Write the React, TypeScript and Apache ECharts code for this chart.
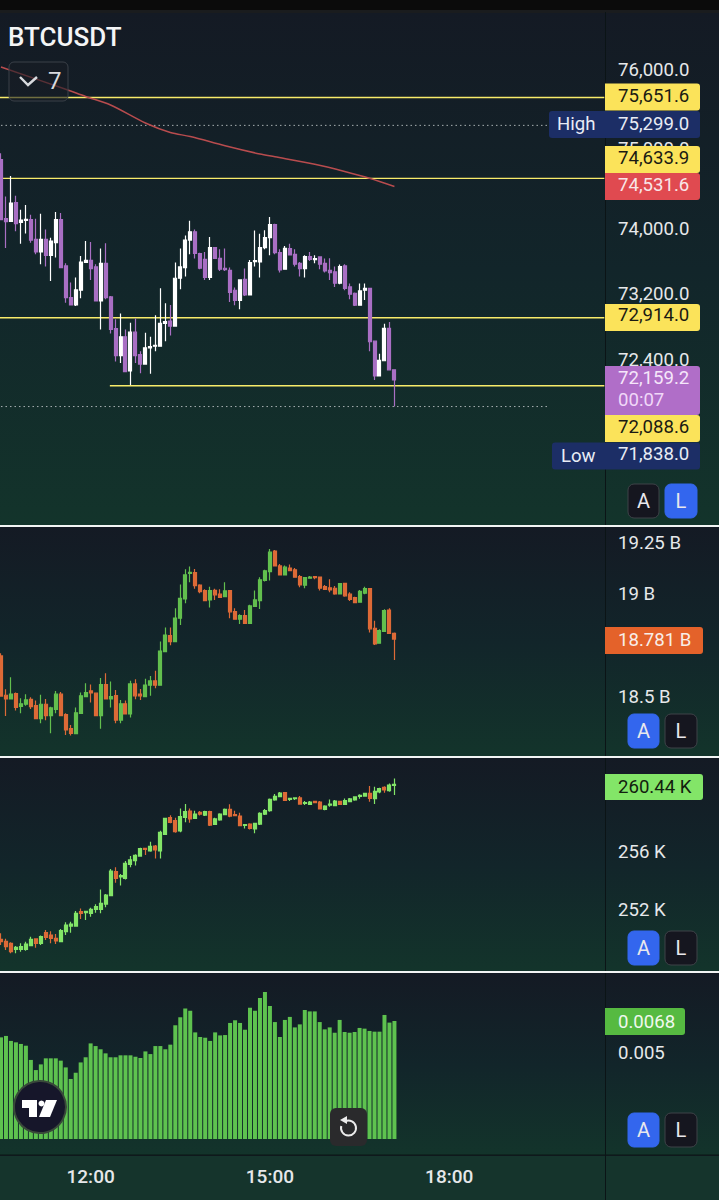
import React, { useEffect, useRef } from "react";
import * as echarts from "echarts";

const priceCandles: number[][] = [
[74870,74121,74121,74947],[74133,74097,73769,74407],[74100,74326,74100,74665],[74333,74072,73977,74416],[74087,74115,73823,74244],
[74112,74125,73949,74301],[74121,73867,73835,74182],[73876,73720,73692,74130],[73720,73876,73569,74195],[73876,73679,73541,73998],
[73679,73855,73364,73897],[73835,74121,73651,74216],[74121,73528,73528,74204],[73548,73160,73098,73581],[73160,73070,73070,73344],
[73070,73254,73057,73406],[73250,73597,73152,73671],[73593,73618,73590,73855],[73618,73516,73376,73843],[73536,73119,73119,73569],
[73119,73581,72771,73762],[73581,73160,73140,73827],[73168,72771,72722,73180],[72780,72452,72382,72894],[72452,72682,72363,72964],
[72682,72260,72260,72771],[72268,72738,72097,72853],[72738,72452,72363,72903],[72465,72351,72240,72505],[72351,72547,72342,72731],
[72547,72563,72232,72682],[72567,72579,72505,72943],[72567,72845,72567,73274],[72845,72866,72628,73090],[72874,72812,72698,73070],
[72812,73397,72812,73590],[73397,73536,73262,73762],[73528,73867,73418,73925],[73867,73970,73692,74108],[73970,73704,73639,73998],
[73700,73520,73508,73712],[73630,73406,73376,73720],[73406,73774,73376,73904],[73774,73642,73642,73774],[73642,73508,73487,73753],
[73520,73504,73487,73762],[73495,73222,73106,73528],[73250,73127,73066,73283],[73127,73376,73017,73385],[73385,73192,73180,73516],
[73192,73590,73192,73622],[73602,73614,73541,73986],[73597,73774,73406,73946],[73774,73897,73753,73990],[73897,74060,73679,74154],
[74060,73712,73692,74068],[73712,73499,73467,73753],[73508,73765,73508,73793],[73762,73683,73679,73823],[73692,73569,73541,73753],
[73581,73516,73418,73597],[73516,73663,73406,73679],[73663,73630,73609,73720],[73626,73639,73581,73679],[73659,73569,73508,73659],
[73581,73487,73467,73639],[73495,73467,73376,73642],[73475,73336,73291,73541],[73336,73541,73324,73565],[73548,73274,73250,73569],
[73291,73201,73140,73332],[73213,73066,73057,73222],[73066,73242,73066,73332],[73250,73274,73131,73332],[73274,72621,72505,73274],
[72628,72207,72158,72628],[72207,72395,72199,72477],[72391,72784,72391,72841],[72784,72281,72281,72861],[72281,72159,71838,72281],
];

const secondCandles: number[][] = [
[18.699,18.503,18.503,18.712],[18.507,18.489,18.406,18.536],[18.489,18.513,18.489,18.595],[18.515,18.448,18.432,18.520],[18.453,18.465,18.419,18.492],
[18.463,18.484,18.456,18.512],[18.487,18.451,18.440,18.497],[18.456,18.393,18.391,18.481],[18.393,18.463,18.370,18.510],[18.463,18.408,18.385,18.489],
[18.408,18.445,18.321,18.451],[18.438,18.512,18.419,18.528],[18.512,18.408,18.408,18.523],[18.412,18.338,18.313,18.419],[18.344,18.321,18.310,18.362],
[18.320,18.421,18.320,18.447],[18.419,18.504,18.416,18.520],[18.500,18.520,18.500,18.565],[18.528,18.518,18.471,18.560],[18.517,18.408,18.408,18.520],
[18.408,18.559,18.344,18.591],[18.559,18.489,18.489,18.614],[18.489,18.500,18.447,18.574],[18.505,18.386,18.370,18.533],[18.386,18.465,18.370,18.484],
[18.465,18.416,18.416,18.481],[18.416,18.562,18.399,18.578],[18.562,18.504,18.487,18.585],[18.513,18.504,18.484,18.538],[18.500,18.557,18.497,18.587],
[18.556,18.577,18.505,18.601],[18.577,18.556,18.541,18.626],[18.556,18.723,18.556,18.769],[18.720,18.801,18.717,18.837],[18.798,18.769,18.751,18.837],
[18.769,18.884,18.769,18.931],[18.883,18.980,18.850,19.047],[18.977,19.094,18.956,19.122],[19.102,19.107,19.058,19.135],[19.106,19.042,19.027,19.123],
[19.045,19.013,19.005,19.049],[19.018,18.969,18.969,19.024],[18.972,19.018,18.935,19.037],[19.019,18.997,18.972,19.027],[19.000,18.985,18.982,19.024],
[18.988,19.016,18.988,19.058],[19.018,18.914,18.883,19.021],[18.915,18.878,18.878,18.931],[18.878,18.896,18.855,18.902],[18.896,18.857,18.857,18.923],
[18.857,18.943,18.857,18.948],[18.940,18.972,18.940,19.018],[18.969,19.070,18.928,19.083],[19.067,19.114,19.062,19.119],[19.110,19.205,19.067,19.221],
[19.211,19.138,19.138,19.216],[19.138,19.094,19.091,19.148],[19.094,19.132,19.091,19.140],[19.128,19.115,19.112,19.145],[19.119,19.083,19.081,19.128],
[19.086,19.045,19.034,19.094],[19.044,19.081,19.029,19.083],[19.078,19.084,19.075,19.089],[19.086,19.081,19.073,19.089],[19.084,19.029,19.018,19.086],
[19.037,19.024,19.021,19.045],[19.031,19.021,19.010,19.073],[19.029,19.001,18.997,19.040],[19.001,19.052,19.000,19.053],[19.053,18.992,18.988,19.055],
[19.000,18.975,18.967,19.010],[18.984,18.959,18.959,18.988],[18.961,19.014,18.959,19.021],[19.005,19.027,19.000,19.037],[19.027,18.831,18.813,19.029],
[18.834,18.757,18.752,18.871],[18.761,18.822,18.761,18.829],[18.818,18.920,18.818,18.927],[18.923,18.809,18.809,18.931],[18.809,18.781,18.679,18.813],
];

const thirdCandles: number[][] = [
[249.97,249.81,249.58,250.39],[249.84,249.47,249.24,250.02],[249.70,249.12,249.01,249.77],[249.28,249.42,249.01,249.51],[249.28,249.47,249.12,249.70],
[249.28,249.65,249.19,249.81],[249.54,249.97,249.49,250.16],[250.00,249.70,249.40,250.04],[249.70,250.16,249.58,250.23],[250.43,250.11,249.93,250.62],
[250.27,250.04,249.70,250.53],[250.04,249.86,249.65,250.34],[249.81,250.57,249.79,250.69],[250.50,250.96,250.27,251.15],[250.89,251.03,250.43,251.19],
[250.89,251.77,250.89,251.93],[251.88,251.77,251.38,252.11],[251.81,251.91,251.31,251.93],[251.77,252.04,251.54,252.16],[252.04,252.23,251.81,252.39],
[252.04,252.46,251.77,253.42],[252.41,253.03,252.18,253.10],[252.99,254.69,252.96,254.83],[254.64,254.18,253.88,254.94],[254.28,254.37,253.68,254.48],
[254.18,255.22,254.11,255.38],[255.15,255.45,254.94,255.72],[255.40,255.77,255.06,255.84],[255.72,256.23,255.72,256.30],[256.25,256.18,255.79,256.30],
[256.07,256.39,256.02,256.71],[256.41,256.14,255.56,256.48],[256.07,257.36,255.56,257.47],[257.22,258.32,257.17,258.37],[258.37,258.05,257.98,258.53],
[258.16,257.40,257.33,258.37],[257.45,258.44,257.36,259.01],[258.39,258.78,258.05,259.31],[258.83,258.28,258.02,259.01],[258.32,258.62,258.28,258.85],
[258.74,258.62,258.51,258.83],[258.55,258.78,258.48,258.85],[258.78,257.86,257.79,258.85],[257.91,258.28,257.86,258.37],[258.21,258.62,258.16,258.67],
[258.58,258.94,258.55,259.01],[258.94,258.48,258.39,259.29],[258.58,258.51,258.48,258.85],[258.48,257.82,257.79,258.71],[257.84,257.89,257.63,257.91],
[257.93,257.63,257.56,257.98],[257.59,257.98,257.29,258.02],[257.93,258.67,257.86,258.74],[258.62,258.85,258.55,258.97],[258.85,259.63,258.78,259.70],
[259.59,259.84,259.54,260.00],[259.82,260.07,259.82,260.14],[260.09,259.56,259.52,260.14],[259.63,259.70,259.52,259.73],[259.68,259.73,259.59,259.77],
[259.73,259.31,259.29,259.86],[259.36,259.40,259.24,259.52],[259.29,259.45,259.24,259.52],[259.50,259.40,259.38,259.52],[259.45,258.97,258.94,259.52],
[258.94,259.17,258.88,259.22],[259.24,259.31,259.13,259.63],[259.20,259.52,259.15,259.59],[259.50,259.29,259.27,259.54],[259.29,259.54,259.27,259.70],
[259.47,259.66,259.45,259.73],[259.59,259.80,259.54,259.84],[259.84,259.91,259.68,259.98],[259.86,260.05,259.82,260.07],[260.05,259.70,259.47,260.55],
[259.68,260.19,259.31,260.51],[260.14,260.37,260.05,260.44],[260.46,260.28,260.09,260.53],[260.23,260.62,260.16,260.72],[260.60,260.67,259.93,261.08],
];

const oscillator: number[] = [
.00588,.00596,.00568,.0056,.00551,.00541,.00461,.00404,.00436,.0047,
.0047,.0047,.00457,.00419,.00354,.00389,.00447,.00476,.00554,.00539,
.00521,.00498,.00476,.00476,.00487,.00487,.00487,.00479,.00472,.00509,
.00494,.00539,.00539,.00521,.00547,.00656,.00701,.00751,.00738,.00616,
.0059,.00586,.00568,.00616,.00599,.00601,.00669,.00684,.00669,.00631,
.00755,.00738,.00809,.00843,.00764,.00674,.0059,.00686,.00703,.00644,
.00661,.00742,.00734,.00734,.00674,.00633,.00644,.00614,.00686,.00618,
.00614,.00618,.00641,.00637,.00624,.0062,.0062,.00714,.00671,.0068,
];

// Bar index (the 10:30 bar is 0), price.
const movingAverage: number[][] = [
[0,76038],[13,75755],[17,75664],[22,75556],[29,75329],[34,75209],[38,75159],
[45,75043],[52,74939],[55,74905],[63,74810],[69,74720],[74,74635],[79,74531.6],
];

// From bar, to bar, price. Bar -1 is the slot left of the first bar, off the page's edge.
const levelLines: number[][] = [
[-1,121,75651.6],[-1,121,74633.9],[-1,121,72914.0],[22,121,72088.6],
];
const dottedLines: number[][] = [
[0,110,75299.0],[0,110,71838.0],
];

const priceTicks = [76000, 75000, 74000, 73200, 72400];
const secondTicks = [19.25, 19, 18.5];
const thirdTicks = [256, 252];
const oscillatorTicks = [0.005];

// Five-minute slots from 10:25, so that the first real bar (10:30) has one empty slot before it.
const categories: string[] = Array.from({ length: 123 }, (_, i) => {
  const m = 10 * 60 + 25 + i * 5;
  return `${String(Math.floor(m / 60)).padStart(2, "0")}:${String(m % 60).padStart(2, "0")}`;
});
const timeLabels = ["12:00", "15:00", "18:00"];
const slot = (bar: number) => bar + 1;
const EMPTY = ["-", "-", "-", "-"];

const FONT = "Roboto, sans-serif";
const TEXT_SIZE = 18.6;
const PURPLE = "#a96fc4";
const ORANGE = "#dd6a37";
const GREEN2 = "#62bf4e";
const GREEN3 = "#83e568";
const YELLOW = "#f8ec6a";

const paneBg = (y: number, h: number) => ({
  type: "rect", z: -10, silent: true,
  shape: { x: 0, y, width: 719, height: h },
  style: {
    fill: new echarts.graphic.LinearGradient(0, 0, 0, 1, [
      { offset: 0, color: "#141a24" },
      { offset: 0.5, color: "#12252a" },
      { offset: 1, color: "#13342b" },
    ]),
  },
});

const tag = (x: number, y: number, w: number, h: number, fill: string, text: string, color: string, textY: number) => [
  { type: "rect", z: 100, shape: { x, y, width: w, height: h, r: [0, 3, 3, 0] }, style: { fill } },
  { type: "text", z: 101, style: { x: 618, y: textY, text, fill: color, font: `${TEXT_SIZE}px ${FONT}`, textVerticalAlign: "middle" } },
];

const sideTag = (x: number, y: number, w: number, h: number, text: string, textX: number, textY: number) => [
  { type: "rect", z: 100, shape: { x, y, width: w, height: h, r: [3, 0, 0, 3] }, style: { fill: "#1c2e66" } },
  { type: "text", z: 101, style: { x: textX, y: textY, text, fill: "#e8ecf5", font: `${TEXT_SIZE}px ${FONT}`, textVerticalAlign: "middle" } },
];

const buttons = (y: number, activeA: boolean) => {
  const blue = "#3366ee", dark = "#15161f";
  return [
    { type: "rect", z: 100, shape: { x: 628, y: y - 17, width: 31, height: 34, r: 6 }, style: { fill: activeA ? blue : dark, stroke: activeA ? blue : "#3e4248", lineWidth: 1 } },
    { type: "text", z: 101, style: { x: 643.5, y, text: "A", fill: "#e8e8ec", font: `20px ${FONT}`, textAlign: "center", textVerticalAlign: "middle" } },
    { type: "rect", z: 100, shape: { x: 665, y: y - 17, width: 32, height: 34, r: 6 }, style: { fill: activeA ? dark : blue, stroke: activeA ? "#3e4248" : blue, lineWidth: 1 } },
    { type: "text", z: 101, style: { x: 681, y, text: "L", fill: "#e8e8ec", font: `20px ${FONT}`, textAlign: "center", textVerticalAlign: "middle" } },
  ];
};

const candleStyle = (up: string, down: string) => ({ color: up, color0: down, borderColor: up, borderColor0: down, borderWidth: 1.2 });

const yAxisBase = (gridIndex: number, type: string, min: number, max: number, ticks: number[], lift: number, fmt: (v: number) => string) => ({
  type, gridIndex, position: "right", min, max, scale: true,
  ...(type === "log" ? { logBase: Math.E } : {}),
  axisLine: { show: false }, axisTick: { show: false }, splitLine: { show: false },
  axisLabel: {
    customValues: ticks, formatter: fmt, margin: 12, align: "left", color: "#e6e8ea",
    fontSize: TEXT_SIZE, fontFamily: FONT, padding: [0, 0, lift, 0], hideOverlap: false,
  },
});

const xAxisBase = (gridIndex: number, show: boolean) => ({
  type: "category", gridIndex, data: categories, boundaryGap: true,
  axisLine: { show: false }, axisTick: { show: false }, splitLine: { show: false },
  axisLabel: show
    ? { show: true, margin: 28, color: "#e6e8ea", fontSize: 19, fontWeight: 500, fontFamily: FONT,
        interval: (_i: number, v: string) => timeLabels.includes(v) }
    : { show: false },
});

// The chart's box hangs 10px past the page's left edge, so that the first bar can be cut by it.
const OFFSET = 10;
const GRID_LEFT = OFFSET - 6.48;
const GRID_WIDTH = 612.58;

const option = {
  animation: false,
  backgroundColor: "#141a24",
  grid: [
    { left: GRID_LEFT, width: GRID_WIDTH, top: 12, height: 512 },
    { left: GRID_LEFT, width: GRID_WIDTH, top: 527, height: 228 },
    { left: GRID_LEFT, width: GRID_WIDTH, top: 758, height: 212 },
    { left: GRID_LEFT, width: GRID_WIDTH, top: 973, height: 166 },
  ],
  xAxis: [xAxisBase(0, false), xAxisBase(1, false), xAxisBase(2, false), xAxisBase(3, true)],
  yAxis: [
    yAxisBase(0, "log", 70440, 76741, priceTicks, 6, (v) => v.toLocaleString("en-US", { minimumFractionDigits: 1, maximumFractionDigits: 1 })),
    yAxisBase(1, "value", 18.2154, 19.328, secondTicks, 2, (v) => `${v} B`),
    yAxisBase(2, "value", 247.858, 262.486, thirdTicks, 2, (v) => `${v} K`),
    yAxisBase(3, "value", 0.000163, 0.0095, oscillatorTicks, 2, (v) => `${v}`),
  ],
  series: [
    ...levelLines.map(([a, b, v]) => ({
      type: "line", xAxisIndex: 0, yAxisIndex: 0, z: 1, symbol: "none", silent: true,
      data: [[slot(a), v], [slot(b), v]], lineStyle: { color: YELLOW, width: 1.4, cap: "square" },
    })),
    ...dottedLines.map(([a, b, v]) => ({
      type: "line", xAxisIndex: 0, yAxisIndex: 0, z: 1, symbol: "none", silent: true,
      data: [[slot(a), v], [slot(b), v]], lineStyle: { color: "#a8b0b2", width: 1, type: [1.5, 3] },
    })),
    {
      type: "line", xAxisIndex: 0, yAxisIndex: 0, z: 2, symbol: "none", silent: true, smooth: 0.3,
      data: movingAverage.map(([k, v]) => [slot(k), v]), lineStyle: { color: "#b84c4e", width: 1.5 },
    },
    { type: "candlestick", xAxisIndex: 0, yAxisIndex: 0, z: 3, barWidth: 3.5, data: [EMPTY, ...priceCandles], itemStyle: candleStyle("#ffffff", PURPLE) },
    { type: "candlestick", xAxisIndex: 1, yAxisIndex: 1, z: 3, barWidth: 3.5, data: [EMPTY, ...secondCandles], itemStyle: candleStyle(GREEN2, ORANGE) },
    { type: "candlestick", xAxisIndex: 2, yAxisIndex: 2, z: 3, barWidth: 3.5, data: [EMPTY, ...thirdCandles], itemStyle: candleStyle(GREEN3, ORANGE) },
    { type: "bar", xAxisIndex: 3, yAxisIndex: 3, z: 3, barWidth: 4, data: ["-", ...oscillator], itemStyle: { color: "#5ec24f" } },
  ],
  graphic: {
    elements: [{
      type: "group", x: OFFSET, y: 0,
      children: [
      paneBg(12, 513), paneBg(527, 229), paneBg(758, 213), paneBg(973, 182),
      { type: "rect", z: -9, shape: { x: 0, y: 1156, width: 719, height: 44 }, style: { fill: "#15342c" } },
      { type: "rect", z: -9, shape: { x: 0, y: 0, width: 719, height: 10 }, style: { fill: "#0b0b0b" } },
      { type: "rect", z: -9, shape: { x: 0, y: 10, width: 719, height: 3 }, style: { fill: "#1a1c1e" } },
      { type: "rect", z: 50, shape: { x: 0, y: 525, width: 719, height: 2 }, style: { fill: "#f2f4f4" } },
      { type: "rect", z: 50, shape: { x: 0, y: 756, width: 719, height: 2 }, style: { fill: "#f2f4f4" } },
      { type: "rect", z: 50, shape: { x: 0, y: 971, width: 719, height: 2 }, style: { fill: "#f2f4f4" } },
      { type: "rect", z: 40, shape: { x: 0, y: 1154.5, width: 719, height: 1 }, style: { fill: "#0b1714" } },
      { type: "rect", z: 40, shape: { x: 605, y: 12, width: 1, height: 1188 }, style: { fill: "#0b1416" } },

      { type: "text", z: 101, style: { x: 8, y: 37, text: "BTCUSDT", fill: "#f4f5f6", font: `500 26px ${FONT}`, textVerticalAlign: "middle" } },
      { type: "rect", z: 90, shape: { x: 9, y: 62, width: 59, height: 39, r: 5 }, style: { fill: "rgba(24,28,36,0.6)", stroke: "#3a4048", lineWidth: 1 } },
      { type: "polyline", z: 101, shape: { points: [[20, 77], [28, 85], [37, 77]] }, style: { stroke: "#d8dade", lineWidth: 2.4, fill: "none" } },
      { type: "text", z: 101, style: { x: 48, y: 81, text: "7", fill: "#d8dade", font: `24px ${FONT}`, textVerticalAlign: "middle" } },

      ...tag(605, 83.5, 95, 27, "#fbe35a", "75,651.6", "#1a1a12", 96),
      ...tag(605, 111, 95, 27, "#1c2e66", "75,299.0", "#e8ecf5", 123.5),
      ...sideTag(549, 111, 56, 27, "High", 557, 124),
      ...tag(605, 146, 95, 27, "#fbe35a", "74,633.9", "#1a1a12", 157.5),
      ...tag(605, 173, 95, 27, "#e04a50", "74,531.6", "#f8e6e8", 184.5),
      ...tag(605, 304, 95, 27, "#fbe35a", "72,914.0", "#1a1a12", 315),
      ...tag(605, 366, 95, 49, "#b06ec8", "72,159.2", "#f5e6fa", 377.5),
      { type: "text", z: 101, style: { x: 618, y: 399.5, text: "00:07", fill: "#f0d8f8", font: `${TEXT_SIZE}px ${FONT}`, textVerticalAlign: "middle" } },
      ...tag(605, 415, 95, 27, "#fbe35a", "72,088.6", "#1a1a12", 427),
      ...tag(605, 442.5, 95, 27, "#1c2e66", "71,838.0", "#e8ecf5", 453.5),
      ...sideTag(552, 442.5, 53, 27, "Low", 561, 455.5),
      ...tag(605, 627, 98, 27, "#e4622a", "18.781 B", "#f8eee8", 640),
      ...tag(605, 774, 98, 26, GREEN3, "260.44 K", "#12200e", 787),
      ...tag(605, 1008, 80, 27, "#56ba41", "0.0068", "#f0f8ee", 1021.5),

      ...buttons(501, false), ...buttons(731, true), ...buttons(948, true), ...buttons(1130, true),

      { type: "circle", z: 100, shape: { cx: 40, cy: 1107, r: 26 }, style: { fill: "#16162a", stroke: "#39493a", lineWidth: 2 } },
      { type: "polygon", z: 101, shape: { points: [[22, 1100], [37, 1100], [37, 1117], [29, 1117], [29, 1108], [22, 1108]] }, style: { fill: "#ffffff" } },
      { type: "polygon", z: 101, shape: { points: [[46, 1100], [57, 1100], [50, 1117], [39, 1117]] }, style: { fill: "#ffffff" } },
      { type: "circle", z: 101, shape: { cx: 41.5, cy: 1103.5, r: 3 }, style: { fill: "#ffffff" } },

      { type: "rect", z: 100, shape: { x: 330, y: 1108, width: 37, height: 38, r: 6 }, style: { fill: "#2a2a2c" } },
      { type: "arc", z: 101, shape: { cx: 348.5, cy: 1128, r: 7.5, startAngle: -2.0, endAngle: 3.4, clockwise: true }, style: { stroke: "#ececec", lineWidth: 2, fill: "none" } },
      { type: "polygon", z: 101, shape: { points: [[340, 1120], [347, 1116], [347, 1124]] }, style: { fill: "#ececec" } },
      ],
    }],
  },
};

export default function App() {
  const ref = useRef<HTMLDivElement>(null);
  useEffect(() => {
    document.body.style.margin = "0";
    document.body.style.overflow = "hidden";
    const chart = echarts.init(ref.current!, undefined, { renderer: "svg" });
    chart.setOption(option as any);
    return () => chart.dispose();
  }, []);
  return <div ref={ref} style={{ position: "absolute", left: -OFFSET, top: 0, width: 719 + OFFSET, height: 1200 }} />;
}
